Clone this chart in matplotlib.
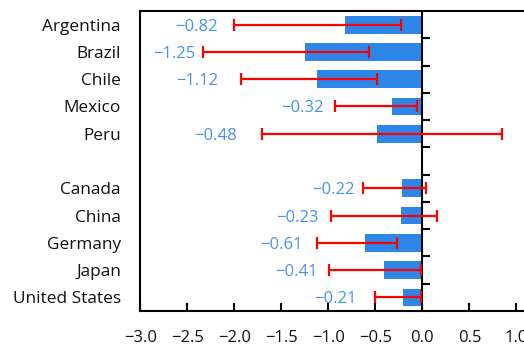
import numpy as np
import matplotlib
matplotlib.use("Agg")
import matplotlib.pyplot as plt
from matplotlib.ticker import FixedLocator

plt.rcParams["font.family"] = ["Open Sans", "DejaVu Sans"]

# Country groups (a blank slot separates them on the axis)
group_a = ["Argentina", "Brazil", "Chile", "Mexico", "Peru"]
group_b = ["Canada", "China", "Germany", "Japan", "United States"]
countries = group_a + group_b

# Point estimates and confidence bounds
estimates = [-0.82, -1.25, -1.12, -0.32, -0.48, -0.22, -0.23, -0.61, -0.41, -0.21]
ci_low = [-2.00, -2.33, -1.93, -0.93, -1.71, -0.63, -0.97, -1.12, -0.99, -0.50]
ci_high = [-0.23, -0.57, -0.48, -0.06, 0.85, 0.04, 0.15, -0.27, -0.02, -0.02]

# Right edge (data units) of each value label
label_right = [-2.18, -2.41, -2.17, -1.055, -1.97, -0.72, -1.10, -1.27, -1.11, -0.70]

x_ticks = [-3.0, -2.5, -2.0, -1.5, -1.0, -0.5, 0.0, 0.5, 1.0]
x_tick_labels = ["\u22123.0", "\u22122.5", "\u22122.0", "\u22121.5", "\u22121.0",
                 "\u22120.5", "0.0", "0.5", "1.0"]

# Row positions with one empty row between the groups
positions = list(range(len(group_a))) + [len(group_a) + 1 + i for i in range(len(group_b))]
boundaries = [p + 0.5 for p in range(positions[-1])]

est = np.array(estimates)
xerr = np.vstack([est - np.array(ci_low), np.array(ci_high) - est])

fig = plt.figure(figsize=(5.24, 3.47), dpi=100)
ax = fig.add_axes([0.268, 0.1037, 0.7355, 0.8646])

bar_color = "#2e86e8"
text_color = "#4592ef"

ax.barh(positions, est, height=0.65, color=bar_color, zorder=2)
ax.errorbar(est, positions, xerr=xerr, fmt="none", ecolor="#ff0000",
            elinewidth=1.6, capsize=4.3, capthick=1.6, zorder=3)

for y, v, xr in zip(positions, estimates, label_right):
    ax.text(xr, y, f"{v:.2f}".replace("-", "\u2212"), ha="right",
            va="center_baseline", color=text_color, fontsize=12)

ax.set_xlim(-3.0, 1.1)
ax.set_ylim(positions[-1] + 0.5, -0.5)

ax.set_xticks(x_ticks)
ax.set_xticklabels(x_tick_labels)
ax.set_yticks(positions)
ax.set_yticklabels(countries)
ax.yaxis.set_minor_locator(FixedLocator(boundaries))

for side in ["left", "right", "top", "bottom"]:
    ax.spines[side].set_linewidth(1.5)
    ax.spines[side].set_color("black")
ax.spines["right"].set_position(("data", 0))
ax.spines["right"].set_zorder(2.5)

ax.tick_params(axis="x", direction="in", length=6, width=1.5, pad=14,
               labelsize=12, colors="black", labelcolor="#111111")
ax.tick_params(axis="y", which="major", left=False, right=False, length=0,
               pad=14, labelsize=12.4, labelcolor="#111111")
ax.tick_params(axis="y", which="minor", left=False, right=True,
               direction="out", length=6, width=1.5)

fig.savefig("out.png", dpi=100)
